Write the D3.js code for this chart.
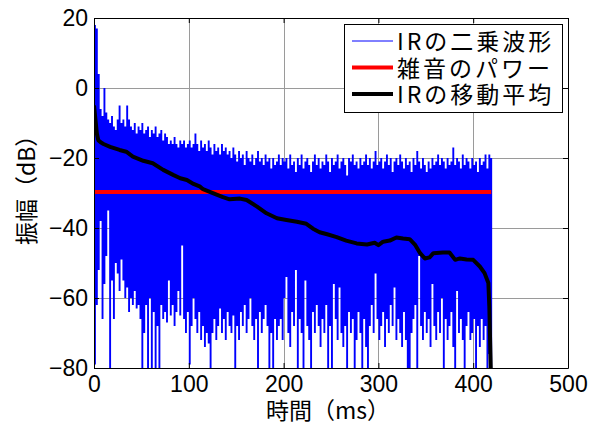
<!DOCTYPE html>
<html>
<head>
<meta charset="utf-8">
<script src="https://cdn.jsdelivr.net/npm/d3@7"></script>
<style>
  body { margin: 0; background: #fff; }
  svg { display: block; }
  .tick text { font-family: "Liberation Sans", Arial, sans-serif; font-size: 23px; fill: #000; }
  .jp { font-family: "Noto Sans CJK JP", sans-serif; fill: #000; }
</style>
</head>
<body>
<svg id="chart" width="597" height="426"></svg>
<script>
// squared IR, sampled every 2 ms: top and bottom of each sample band (dB)
const sampleStep = 2
const irUpper = [
  18, 17, 4, -6, -8, 0, -7, -9, -10, -8,
  -11, -12, -9, -5, -10, -9, -11, -5, -9, -11,
  -12, -10, -13, -11, -12, -10, -13, -12, -11, -14,
  -12, -13, -11, -14, -13, -12, -15, -13, -14, -16,
  -15, -16, -14, -16, -17, -15, -16, -15, -17, -16,
  -15, -17, -16, -13, -16, -18, -15, -17, -16, -18,
  -15, -17, -19, -16, -18, -17, -19, -16, -18, -17,
  -19, -18, -20, -17, -19, -21, -18, -20, -19, -22,
  -18, -20, -21, -19, -22, -20, -18, -21, -20, -22,
  -19, -21, -20, -23, -20, -22, -21, -19, -22, -20,
  -21, -20, -23, -19, -22, -21, -24, -20, -22, -19,
  -23, -21, -20, -22, -24, -21, -19, -22, -20, -23,
  -21, -22, -19, -21, -24, -20, -22, -21, -19, -23,
  -21, -20, -22, -25, -20, -21, -19, -22, -21, -23,
  -20, -22, -21, -19, -22, -20, -23, -21, -18, -22,
  -21, -20, -23, -21, -19, -22, -20, -24, -21, -20,
  -22, -19, -21, -23, -20, -22, -21, -24, -20, -22,
  -18, -21, -23, -20, -22, -24, -21, -23, -20, -22,
  -21, -19, -22, -20, -21, -23, -20, -22, -21, -17,
  -22, -20, -21, -23, -19, -22, -20, -21, -23, -20,
  -22, -21, -24, -20, -22, -21, -19, -23, -19, -20
]
const irLower = [
  -79, -62, -52, -38, -66, -56, -48, -35, -80, -55,
  -66, -50, -53, -58, -49, -55, -60, -57, -64, -60,
  -62, -58, -63, -62, -66, -80, -70, -62, -80, -60,
  -80, -64, -80, -68, -80, -62, -66, -64, -67, -55,
  -65, -62, -68, -64, -58, -65, -45, -66, -70, -64,
  -79, -68, -60, -66, -70, -64, -72, -68, -74, -70,
  -73, -80, -70, -66, -72, -68, -63, -70, -66, -72,
  -64, -68, -70, -65, -80, -68, -72, -64, -68, -62,
  -70, -66, -60, -68, -72, -66, -80, -64, -70, -66,
  -62, -68, -80, -70, -80, -66, -72, -68, -66, -72,
  -60, -54, -70, -74, -64, -68, -52, -80, -66, -70,
  -80, -55, -68, -72, -80, -64, -70, -62, -68, -74,
  -66, -70, -62, -80, -68, -80, -56, -66, -72, -57,
  -70, -74, -68, -80, -64, -70, -66, -80, -72, -64,
  -70, -80, -66, -74, -80, -68, -62, -70, -53, -66,
  -72, -68, -64, -74, -66, -70, -62, -68, -57, -72,
  -66, -70, -74, -64, -72, -80, -80, -70, -66, -62,
  -80, -48, -68, -72, -64, -70, -66, -74, -56, -68,
  -72, -64, -70, -60, -80, -66, -72, -68, -64, -74,
  -80, -58, -70, -66, -72, -80, -68, -64, -72, -70,
  -66, -80, -68, -74, -66, -72, -68, -80, -76, -80
]

// moving average of the IR (ms, dB)
const avgTime = [0, 0.5, 1.5, 3, 4.5, 7, 10, 17, 27, 34, 41, 52, 62, 73, 84, 91, 98, 105, 112, 115,
  126, 136, 143, 154, 161, 172, 182, 193, 203, 214, 224, 231, 238, 246, 256, 266, 277, 288, 296, 300,
  305, 312, 319, 326, 333, 339, 344, 349, 354, 358, 368, 375, 381, 386, 393, 400, 407, 412, 416, 417, 418.5]
const avgLevel = [-5, -6.3, -9, -13, -14.9, -15.5, -16, -16.8, -17.7, -18.2, -19.6, -20.8, -21.5, -23.4, -24.9, -25.8, -26.3, -27.4, -28.2, -28.9,
  -30.1, -31.2, -31.8, -31.6, -32, -33.9, -35.8, -37.2, -37.7, -38.2, -38.8, -40.2, -41.2, -41.8, -42.6, -43.6, -44.4, -44.7, -44.2, -44.9,
  -43.9, -43.6, -42.7, -43, -43.2, -44.9, -47.2, -48.7, -48.4, -47.2, -47, -47, -49.1, -48.7, -49, -49.1, -51, -52.9, -55.7, -62.4, -80]

// noise power
const noiseLevel = -29.7
const noiseSpan = [0, 419]

const xTicks = [0, 100, 200, 300, 400, 500]
const yTicks = [-80, -60, -40, -20, 0, 20]
const legendLabels = ['IRの二乗波形', '雑音のパワー', 'IRの移動平均']
const legendColors = ['#0000ff', '#ff0000', '#000000']
const legendWidths = [1, 4, 4]

const margin = { top: 18, right: 29, bottom: 58, left: 94 }
const width = 597
const height = 426

const svg = d3.select('#chart')
const x = d3.scaleLinear().domain([0, 500]).range([margin.left, width - margin.right])
const y = d3.scaleLinear().domain([-80, 20]).range([height - margin.bottom, margin.top])

svg.append('rect').attr('width', width).attr('height', height).attr('fill', '#fff')

svg.append('defs').append('clipPath').attr('id', 'plot-clip')
  .append('rect')
  .attr('x', x(0)).attr('y', y(20))
  .attr('width', x(500) - x(0)).attr('height', y(-80) - y(20))

// grid
const grid = svg.append('g').attr('stroke', '#9a9a9a').attr('stroke-width', 1)
grid.selectAll('.gx').data(xTicks.slice(1, -1)).join('line')
  .attr('x1', d => Math.round(x(d)) + 0.5).attr('x2', d => Math.round(x(d)) + 0.5)
  .attr('y1', y(20)).attr('y2', y(-80))
grid.selectAll('.gy').data(yTicks.slice(1, -1)).join('line')
  .attr('y1', d => Math.round(y(d)) + 0.5).attr('y2', d => Math.round(y(d)) + 0.5)
  .attr('x1', x(0)).attr('x2', x(500))

const plot = svg.append('g').attr('clip-path', 'url(#plot-clip)')

// each sample becomes a flat band over its 2 ms slot
const samples = irUpper.flatMap((u, i) => {
  const t = i * sampleStep
  return [{ t: t, u: u, l: irLower[i] }, { t: t + sampleStep, u: u, l: irLower[i] }]
})
plot.append('path')
  .datum(samples)
  .attr('fill', '#0000ff')
  .attr('d', d3.area().x(d => x(d.t)).y0(d => y(d.l)).y1(d => y(d.u)))

plot.append('line')
  .attr('x1', x(noiseSpan[0])).attr('x2', x(noiseSpan[1]))
  .attr('y1', y(noiseLevel)).attr('y2', y(noiseLevel))
  .attr('stroke', '#ff0000').attr('stroke-width', 4)

plot.append('path')
  .datum(avgTime.map((t, i) => [t, avgLevel[i]]))
  .attr('fill', 'none')
  .attr('stroke', '#000')
  .attr('stroke-width', 4)
  .attr('stroke-linejoin', 'round')
  .attr('d', d3.line().x(d => x(d[0])).y(d => y(d[1])))

// axes, ticks pointing inward on all four sides
const fmt = d3.format('d')
svg.append('g').attr('transform', `translate(0,${y(-80)})`)
  .call(d3.axisBottom(x).tickValues(xTicks).tickSize(-5).tickSizeOuter(0).tickPadding(8).tickFormat(fmt))
svg.append('g').attr('transform', `translate(${x(0)},0)`)
  .call(d3.axisLeft(y).tickValues(yTicks).tickSize(-5).tickSizeOuter(0).tickPadding(6).tickFormat(fmt))
svg.append('g').attr('transform', `translate(0,${y(20)})`)
  .call(d3.axisTop(x).tickValues(xTicks).tickSize(-5).tickSizeOuter(0).tickFormat(''))
svg.append('g').attr('transform', `translate(${x(500)},0)`)
  .call(d3.axisRight(y).tickValues(yTicks).tickSize(-5).tickSizeOuter(0).tickFormat(''))
svg.selectAll('.domain').attr('stroke', '#000').attr('stroke-width', 1)
svg.selectAll('.tick line').attr('stroke', '#000')

// axis titles
svg.append('text').attr('class', 'jp')
  .attr('x', 328).attr('y', 419)
  .attr('text-anchor', 'middle')
  .attr('font-size', 23)
  .text('時間（ms）')
svg.append('text').attr('class', 'jp')
  .attr('transform', 'translate(35,245) rotate(-90)')
  .attr('text-anchor', 'start')
  .attr('font-size', 23)
  .text('振幅（dB）')

// legend
const legend = svg.append('g')
legend.append('rect')
  .attr('x', 344.5).attr('y', 24.5).attr('width', 218).attr('height', 88)
  .attr('fill', '#fff').attr('stroke', '#000').attr('stroke-width', 1)
const rows = legend.selectAll('.row').data(legendLabels).join('g')
  .attr('transform', (d, i) => `translate(0,${41 + i * 26.5})`)
rows.append('line')
  .attr('x1', 352).attr('x2', 393)
  .attr('stroke', (d, i) => legendColors[i])
  .attr('stroke-width', (d, i) => legendWidths[i])
rows.append('text').attr('class', 'jp')
  .attr('x', 397).attr('y', 9)
  .attr('font-size', 23)
  .attr('letter-spacing', 3)
  .text(d => d)
</script>
</body>
</html>
